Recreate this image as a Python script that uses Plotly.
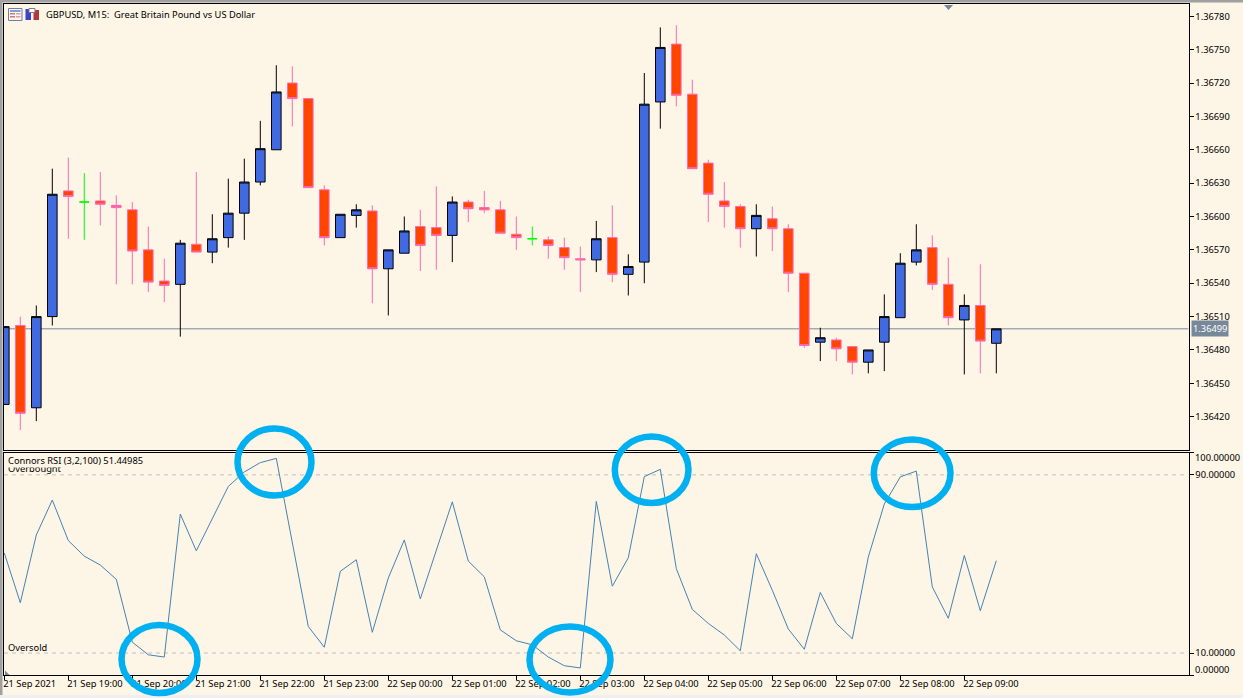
#!/usr/bin/env python3
# GBPUSD M15 candles with Connors RSI sub window, MetaTrader look

import plotly.graph_objects as go

W, H = 1243, 698

# %% data
price_open = [
    1.36431, 1.36502, 1.36428, 1.36510, 1.36623, 1.36613, 1.36614, 1.36610, 1.36606, 1.36570, 1.36542,
    1.36539, 1.36575, 1.36568, 1.36581, 1.36603, 1.36631, 1.36660, 1.36720, 1.36706, 1.36624, 1.36581,
    1.36601, 1.36605, 1.36553, 1.36567, 1.36591, 1.36590, 1.36583, 1.36613, 1.36608, 1.36606, 1.36584,
    1.36580, 1.36579, 1.36572, 1.36562, 1.36561, 1.36581, 1.36548, 1.36559, 1.36703, 1.36755, 1.36710,
    1.36648, 1.36614, 1.36609, 1.36589, 1.36598, 1.36589, 1.36549, 1.36487, 1.36489, 1.36483, 1.36469,
    1.36487, 1.36509, 1.36559, 1.36572, 1.36539, 1.36507, 1.36520, 1.36486,
]
price_high = [
    1.36501, 1.36510, 1.36520, 1.36643, 1.36653, 1.36639, 1.36640, 1.36619, 1.36613, 1.36591, 1.36562,
    1.36579, 1.36640, 1.36602, 1.36634, 1.36652, 1.36686, 1.36736, 1.36735, 1.36706, 1.36628, 1.36602,
    1.36611, 1.36610, 1.36570, 1.36600, 1.36606, 1.36627, 1.36618, 1.36615, 1.36623, 1.36614, 1.36600,
    1.36591, 1.36582, 1.36581, 1.36573, 1.36596, 1.36610, 1.36566, 1.36729, 1.36770, 1.36772, 1.36723,
    1.36651, 1.36631, 1.36611, 1.36611, 1.36609, 1.36593, 1.36549, 1.36500, 1.36491, 1.36483, 1.36480,
    1.36530, 1.36567, 1.36593, 1.36583, 1.36563, 1.36530, 1.36557, 1.36499,
]
price_low = [
    1.36431, 1.36408, 1.36416, 1.36502, 1.36580, 1.36579, 1.36592, 1.36539, 1.36539, 1.36532, 1.36523,
    1.36492, 1.36568, 1.36558, 1.36572, 1.36579, 1.36628, 1.36660, 1.36681, 1.36626, 1.36574, 1.36581,
    1.36590, 1.36522, 1.36511, 1.36567, 1.36551, 1.36552, 1.36559, 1.36595, 1.36603, 1.36585, 1.36570,
    1.36574, 1.36562, 1.36552, 1.36532, 1.36550, 1.36541, 1.36529, 1.36540, 1.36679, 1.36699, 1.36643,
    1.36595, 1.36590, 1.36572, 1.36564, 1.36569, 1.36532, 1.36482, 1.36470, 1.36470, 1.36458, 1.36459,
    1.36461, 1.36509, 1.36556, 1.36534, 1.36502, 1.36458, 1.36459, 1.36459,
]
price_close = [
    1.36501, 1.36423, 1.36510, 1.36620, 1.36618, 1.36613, 1.36611, 1.36608, 1.36569, 1.36541, 1.36538,
    1.36576, 1.36568, 1.36580, 1.36603, 1.36631, 1.36661, 1.36712, 1.36706, 1.36626, 1.36581, 1.36602,
    1.36606, 1.36553, 1.36570, 1.36587, 1.36574, 1.36583, 1.36613, 1.36607, 1.36606, 1.36585, 1.36581,
    1.36580, 1.36574, 1.36563, 1.36561, 1.36580, 1.36548, 1.36555, 1.36701, 1.36752, 1.36709, 1.36643,
    1.36620, 1.36609, 1.36589, 1.36601, 1.36589, 1.36549, 1.36484, 1.36491, 1.36481, 1.36469, 1.36480,
    1.36510, 1.36558, 1.36570, 1.36539, 1.36509, 1.36520, 1.36488, 1.36499,
]
rsi_values = [
    54.9, 32.6, 63.0, 78.7, 60.5, 53.5, 49.5, 43.1, 14.9, 9.2, 8.2, 72.4, 55.9, 70.2, 84.8, 91.3, 95.5, 97.4,
    59.2, 21.9, 12.6, 46.7, 51.9, 19.3, 43.7, 60.8, 34.3, 56.1, 77.9, 51.3, 44.2, 20.4, 15.5, 13.7, 8.2, 4.3,
    3.3, 78.1, 40.0, 52.8, 89.2, 92.5, 47.9, 29.6, 23.3, 18.1, 11.0, 54.6, 38.2, 20.8, 11.7, 37.2, 23.3, 16.4,
    53.1, 76.9, 89.1, 91.7, 39.7, 25.6, 53.8, 29.0, 51.45,
]
doji_bars = [5, 33]  # the two green crosses
last_price = 1.36499

price_ticks = [1.36420, 1.36450, 1.36480, 1.36510, 1.36540, 1.36570, 1.36600,
               1.36630, 1.36660, 1.36690, 1.36720, 1.36750, 1.36780]
rsi_ticks = [100, 90, 10, 0]
date_ticks = list(range(0, 64, 4))
date_labels = ['21 Sep 2021', '21 Sep 19:00', '21 Sep 20:00', '21 Sep 21:00', '21 Sep 22:00', '21 Sep 23:00',
               '22 Sep 00:00', '22 Sep 01:00', '22 Sep 02:00', '22 Sep 03:00', '22 Sep 04:00', '22 Sep 05:00',
               '22 Sep 06:00', '22 Sep 07:00', '22 Sep 08:00', '22 Sep 09:00']
bars = list(range(len(price_open)))

# %% look
cream = '#FDF5E6'
FONT = dict(family='Noto Sans', size=9.3, color='black')


def px(x):
    return x / W


def py(y):
    return 1 - y / H


def box(x0, y0, x1, y1, fill, line=None, layer='above'):
    return dict(type='rect', xref='paper', yref='paper', x0=px(x0), x1=px(x1), y0=py(y0), y1=py(y1),
                fillcolor=fill, line=dict(color=line or fill, width=1 if line else 0), layer=layer)


def ring(x0, y0, x1, y1):
    return dict(type='circle', xref='paper', yref='paper', x0=px(x0), x1=px(x1), y0=py(y0), y1=py(y1),
                line=dict(color='#00B0F0', width=6.5), layer='above')


def tri(points, color='#778899'):
    path = 'M ' + ' L '.join(f'{px(a):.5f} {py(b):.5f}' for a, b in points) + ' Z'
    return dict(type='path', xref='paper', yref='paper', path=path, fillcolor=color, line=dict(width=0), layer='above')


# %% traces
doji_idx = set(doji_bars)
normal = [i not in doji_idx for i in bars]


def pick(values, keep):
    return [v if k else None for v, k in zip(values, keep)]


fig = go.Figure()
fig.add_trace(go.Candlestick(
    x=bars, open=pick(price_open, normal), high=pick(price_high, normal),
    low=pick(price_low, normal), close=pick(price_close, normal),
    increasing=dict(line=dict(color='black', width=1), fillcolor='#4169E1'),
    decreasing=dict(line=dict(color='#FF69B4', width=1), fillcolor='#FF4500'),
    whiskerwidth=0, showlegend=False, xaxis='x', yaxis='y'))

is_doji = [not n for n in normal]
fig.add_trace(go.Candlestick(
    x=bars, open=pick(price_open, is_doji), high=pick(price_high, is_doji),
    low=pick(price_low, is_doji), close=pick(price_close, is_doji),
    increasing=dict(line=dict(color='#00FF00', width=1), fillcolor='#00FF00'),
    decreasing=dict(line=dict(color='#00FF00', width=1), fillcolor='#00FF00'),
    whiskerwidth=0, showlegend=False, xaxis='x', yaxis='y'))

fig.add_trace(go.Scatter(x=bars, y=rsi_values, mode='lines', line=dict(color='#4682B4', width=1),
                         showlegend=False, xaxis='x2', yaxis='y2'))

# %% axes
x_range = [(4.0 - 4.3) / 16, (1188.5 - 4.3) / 16]
x_domain = [px(4.0), px(1188.5)]
frame = dict(showline=True, linecolor='black', linewidth=1, mirror=True, showgrid=False, zeroline=False)

fig.update_layout(
    width=W, height=H, autosize=False, margin=dict(l=0, r=0, t=0, b=0),
    paper_bgcolor=cream, plot_bgcolor=cream, font=FONT, boxgap=0.4, boxgroupgap=0, showlegend=False,
    xaxis=dict(domain=x_domain, range=x_range, anchor='y', rangeslider=dict(visible=False),
               showticklabels=False, ticks='', **frame),
    yaxis=dict(domain=[py(449.6), py(4.3)], range=[1.363904, 1.367908], anchor='x', side='right',
               tickvals=price_ticks, ticktext=[f'{t:.5f}' for t in price_ticks],
               ticks='outside', ticklen=4, tickcolor='black', tickwidth=1, **frame),
    xaxis2=dict(domain=x_domain, range=x_range, anchor='y2', tickvals=date_ticks, ticktext=date_labels,
                ticks='outside', ticklen=4, tickcolor='black', tickwidth=1,
                ticklabelposition='outside right', ticklabelshift=-2, tickangle=0, **frame),
    yaxis2=dict(domain=[py(675.3), py(452.6)], range=[0, 100], anchor='x2', side='right',
                tickvals=rsi_ticks, ticktext=['', '90.00000', '10.00000', ''],
                ticks='outside', ticklen=4, tickcolor='black', tickwidth=1, **frame),
)

# %% reference lines, marks and text
shapes = [
    dict(type='line', xref='x', yref='y', x0=x_range[0], x1=x_range[1], y0=last_price, y1=last_price,
         line=dict(color='#778899', width=1), layer='below'),
    dict(type='line', xref='x2', yref='y2', x0=x_range[0], x1=x_range[1], y0=90, y1=90,
         line=dict(color='#C0C0C0', width=1, dash='4px,4px'), layer='below'),
    dict(type='line', xref='x2', yref='y2', x0=x_range[0], x1=x_range[1], y0=10, y1=10,
         line=dict(color='#C0C0C0', width=1, dash='4px,4px'), layer='below'),
    # window frame
    box(0, 0, W, 2.5, '#A0A0A0'),
    box(0, 0, 2.5, 695, '#A0A0A0'),
    box(0, 695, W, H, '#F0F0F0'),
    # little triangles of the terminal
    tri([(944, 5), (953, 5), (948.5, 10)]),
    tri([(5, 670.5), (5, 675), (9.5, 675)]),
    # chart window icons
    box(8.5, 8.5, 22, 20.5, '#F4F6FC', '#6F7F9F'),
    box(10, 10, 20.5, 12, '#7F9FE0'),
    box(10, 13, 15, 14.5, '#E8705F'),
    box(10, 16, 15, 17.5, '#E8705F'),
    box(16, 13, 20.5, 14.5, '#F09A8A'),
    box(16, 16, 20.5, 17.5, '#F09A8A'),
    box(25.5, 9, 31, 20, '#3A44C8'),
    box(33.5, 10, 39, 20, '#B03A3A'),
    box(29, 8.5, 35, 12.5, '#FFFFFF', '#7F7F7F'),
    # highlights
    ring(237.5, 428.5, 311.5, 495.5),
    ring(121.5, 625, 197.5, 693),
    ring(529.5, 626.5, 610.5, 692.5),
    ring(614.8, 436.5, 688.5, 503),
    ring(873.8, 439.5, 950.5, 507),
]


def label(text, x, y, **kw):
    return dict(text=text, xref='paper', yref='paper', x=px(x), y=py(y), xanchor='left', yanchor='middle',
                showarrow=False, font=FONT, borderpad=0, **kw)


annotations = [
    label('GBPUSD, M15:  Great Britain Pound vs US Dollar', 44.5, 15),
    label('Overbought', 7, 468.5),
    label('Connors RSI (3,2,100) 51.44985', 7, 460.5, bgcolor=cream),
    label('Oversold', 7, 647.5),
    label('100.00000', 1194, 457),
    label('0.00000', 1194, 669.5),
    dict(text=f'{last_price:.5f}', xref='paper', yref='y', x=px(1191), y=last_price, xanchor='left',
         yanchor='middle', showarrow=False, bgcolor='#778899', borderpad=1,
         font=dict(family=FONT['family'], size=FONT['size'], color='white')),
]
fig.update_layout(shapes=shapes, annotations=annotations)

# the page's default body margin would push the figure off the window
fig.write_html("out.html", config=dict(displayModeBar=False),
               post_script="document.body.style.margin='0';document.body.style.overflow='hidden';")
